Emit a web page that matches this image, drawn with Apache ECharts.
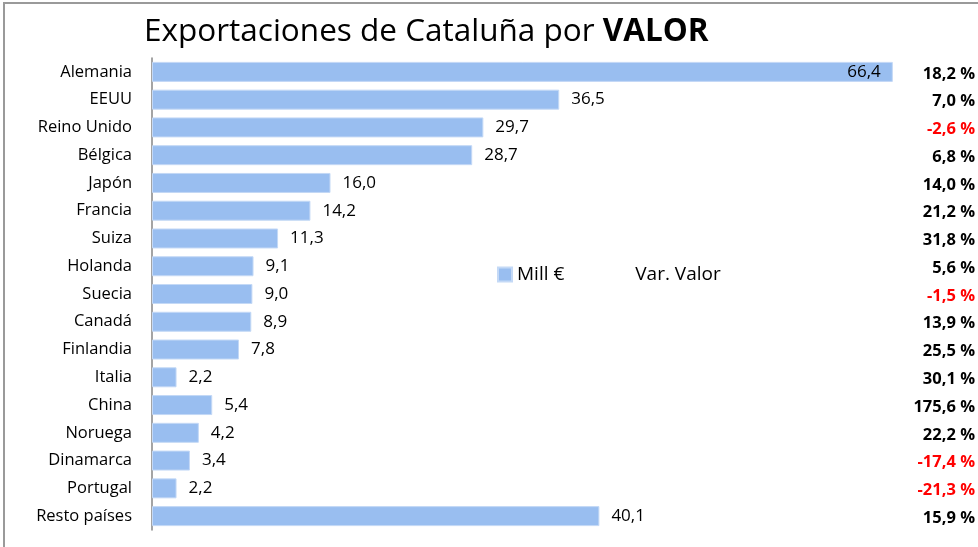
<!DOCTYPE html>
<html>
<head>
<meta charset="utf-8">
<script src="https://cdn.jsdelivr.net/npm/echarts@6/dist/echarts.min.js"></script>
<style>
  html, body { margin: 0; padding: 0; background: #fff; }
  #chart { width: 978px; height: 547px; }
</style>
</head>
<body>
<div id="chart"></div>
<script>
// datos
const paises = ['Alemania', 'EEUU', 'Reino Unido', 'Bélgica', 'Japón', 'Francia', 'Suiza', 'Holanda',
    'Suecia', 'Canadá', 'Finlandia', 'Italia', 'China', 'Noruega', 'Dinamarca', 'Portugal', 'Resto países']
const millEuros = [66.4, 36.5, 29.7, 28.7, 16.0, 14.2, 11.3, 9.1, 9.0, 8.9, 7.8, 2.2, 5.4, 4.2, 3.4, 2.2, 40.1]
const varValor = [18.2, 7.0, -2.6, 6.8, 14.0, 21.2, 31.8, 5.6, -1.5, 13.9, 25.5, 30.1, 175.6, 22.2, -17.4, -21.3, 15.9]

const fmt = v => v.toFixed(1).replace('.', ',')
const font = 'Open Sans'

let chart = echarts.init(document.getElementById('chart'))

let option = {
    animation: false,
    title: {
        text: 'Exportaciones de Cataluña por {b|VALOR}',
        left: 139,
        top: 11,
        textStyle: {
            fontFamily: font,
            fontSize: 31.5,
            fontWeight: 'normal',
            color: '#000',
            rich: {
                b: { fontFamily: font, fontSize: 31.5, fontWeight: 'bold', color: '#000' }
            }
        }
    },
    legend: {
        left: 492,
        top: 260,
        itemWidth: 14,
        itemHeight: 14,
        itemGap: 52,
        textStyle: { fontFamily: font, fontSize: 19, color: '#000' },
        data: [
            { name: 'Mill €', icon: 'rect' },
            { name: 'Var. Valor', icon: 'none' }
        ]
    },
    grid: {
        left: 152,
        right: 45,
        top: 58,
        bottom: 17
    },
    xAxis: {
        type: 'value',
        min: 0,
        max: 70,
        show: false
    },
    yAxis: [{
        type: 'category',
        data: paises,
        inverse: true,
        axisLine: { lineStyle: { color: '#868686', width: 1.5 } },
        axisTick: { length: 6, lineStyle: { color: '#868686', width: 1.5 } },
        axisLabel: { fontFamily: font, fontSize: 16.5, color: '#000', margin: 20 }
    }, {
        type: 'category',
        data: varValor,
        inverse: true,
        position: 'right',
        axisLine: { show: false },
        axisTick: { show: false },
        axisLabel: {
            align: 'right',
            margin: 42,
            padding: [4, 0, 0, 0],
            formatter: v => {
                const n = Number(v)
                return (n < 0 ? '{r|' : '{k|') + fmt(n) + ' %}'
            },
            rich: {
                k: { fontFamily: font, fontSize: 16.5, fontWeight: 'bold', color: '#000' },
                r: { fontFamily: font, fontSize: 16.5, fontWeight: 'bold', color: '#ff0000' }
            }
        }
    }],
    series: [{
        name: 'Mill €',
        type: 'bar',
        barWidth: 20,
        data: millEuros.map((v, i) => ({
            value: v,
            label: { position: i === 0 ? 'insideRight' : 'right' }
        })),
        itemStyle: { color: '#99BEF0', borderColor: '#C4D9F6', borderWidth: 1 },
        label: {
            show: true,
            distance: 12,
            fontFamily: font,
            fontSize: 17,
            color: '#000',
            formatter: p => fmt(p.value)
        }
    }, {
        name: 'Var. Valor',
        type: 'line',
        data: []
    }],
    graphic: [{
        type: 'polyline',
        shape: { points: [[4, 547], [4, 3], [978, 3]] },
        style: { stroke: '#9a9a9a', lineWidth: 2, fill: null }
    }]
}

chart.setOption(option)
</script>
</body>
</html>
